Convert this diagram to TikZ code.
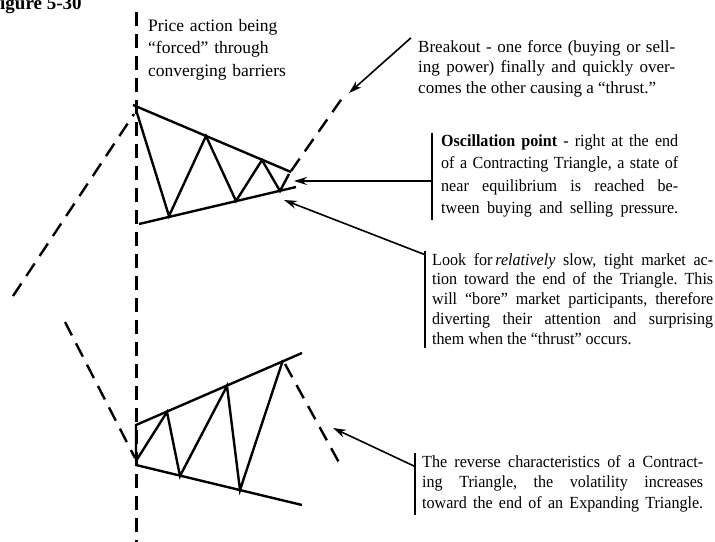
\documentclass[tikz,border=0pt]{standalone}
\usepackage{fontspec}
\setmainfont{Liberation Serif}
\newfontfamily\tightfont[FakeStretch=0.945]{Liberation Serif}
\usetikzlibrary{arrows.meta,calc}

\frenchspacing
\tolerance=10000
\hyphenpenalty=10000
\newcommand{\fillend}{\parfillskip=0pt\par}

\begin{document}
\begin{tikzpicture}[x=1pt,y=-1pt,
    barrier/.style={line width=2.4pt,line join=miter},
    thrust/.style={line width=2.4pt,dash pattern=on 15pt off 9pt},
    guide/.style={line width=2.2pt,dash pattern=on 14pt off 8pt},
    pointer/.style={line width=1.6pt,-{Stealth[length=13pt,width=8pt]}},
    notebar/.style={line width=1.3pt},
    note/.style={anchor=base west,inner sep=0pt,align=justify,text width=#1}]
    \useasboundingbox (0,0) rectangle (715,541);
    \clip (0,0) rectangle (715,541);

    % Title and the vertical guide
    \node[anchor=base west,inner sep=0pt,font=\bfseries\fontsize{19}{19}\selectfont] (fig) at (0,9.5) {igure 5-30};
    \coordinate (gTop) at (136.5,12);
    \coordinate (gBot) at (136.5,545);
    \draw[guide] (gTop) -- (gBot);

    % Contracting triangle
    \begin{scope}
        \draw[thrust] (13,296) -- (134,114);
        \draw[barrier] (133,105) -- (291,172);
        \draw[barrier] (139,224) -- (296,187);
        \draw[barrier] (137,113) -- (169,216) -- (206,136) -- (236,201)
            -- (262,160) -- (280,191) -- (289,174);
        \draw[thrust] (291,171) -- (343,97);
    \end{scope}

    % Expanding triangle
    \begin{scope}
        \draw[thrust] (65,322) -- (135,458);
        \draw[barrier] (136,461) -- (136,425) -- (302,353);
        \draw[barrier] (136,465) -- (302,505);
        \draw[barrier] (136,461) -- (167,412) -- (180,476) -- (227,386)
            -- (240,490) -- (283,360);
        \draw[thrust] (285,364) -- (342,468);
    \end{scope}

    % Notes
    \node[note=140pt,align=left,font=\fontsize{17.5}{22.5}\selectfont] (price) at (148,31)
        {Price action being\\“forced” through\\converging barriers};
    \node[note=257pt,font=\fontsize{17}{20.5}\selectfont] (brk) at (418,52)
        {Breakout - one force (buying or sell-\linebreak
         ing power) finally and quickly over-\linebreak
         comes the other causing a “thrust.”};
    \node[note=237pt,font=\tightfont\fontsize{17}{22.3}\selectfont] (osc) at (441,146.5)
        {\textbf{Oscillation point} - right at the end\linebreak
         of a Contracting Triangle, a state of\linebreak
         near equilibrium is reached be-\linebreak
         tween buying and selling pressure.\fillend};
    \node[note=281pt,font=\tightfont\fontsize{17}{19.8}\selectfont] (look) at (432,265)
        {Look for\,\textit{relatively} slow, tight market ac-\linebreak
         tion toward the end of the Triangle. This\linebreak
         will “bore” market participants, therefore\linebreak
         diverting their attention and surprising\linebreak
         them when the “thrust” occurs.};
    \node[note=281pt,font=\tightfont\fontsize{17}{20.5}\selectfont] (rev) at (422,467)
        {The reverse characteristics of a Contract-\linebreak
         ing Triangle, the volatility increases\linebreak
         toward the end of an Expanding Triangle.\fillend};

    % Bars beside the notes
    \coordinate (oscTop) at ([xshift=-9pt,yshift=2pt]osc.north west);
    \coordinate (oscBot) at ([xshift=-9pt,yshift=-3pt]osc.south west);
    \coordinate (lookTop) at ([xshift=-7pt,yshift=2pt]look.north west);
    \coordinate (lookBot) at ([xshift=-7pt,yshift=-3pt]look.south west);
    \coordinate (revTop) at ([xshift=-7pt,yshift=2pt]rev.north west);
    \coordinate (revBot) at ([xshift=-7pt,yshift=-3pt]rev.south west);
    \draw[notebar] (oscTop) -- (oscBot);
    \draw[notebar] (lookTop) -- (lookBot);
    \draw[notebar] (revTop) -- (revBot);

    % Arrows
    \coordinate (brkTip) at (349,93);
    \coordinate (oscTip) at (294,181);
    \coordinate (lookTip) at (284,200);
    \coordinate (revTip) at (333,428);
    \draw[pointer] ([xshift=-7pt,yshift=2pt]brk.north west) -- (brkTip);
    \draw[pointer] (oscTop |- oscTip) -- (oscTip);
    \draw[pointer] ($(lookTop)!0.04!(lookBot)$) -- (lookTip);
    \draw[pointer] ($(revTop)!0.22!(revBot)$) -- (revTip);
\end{tikzpicture}
\end{document}
